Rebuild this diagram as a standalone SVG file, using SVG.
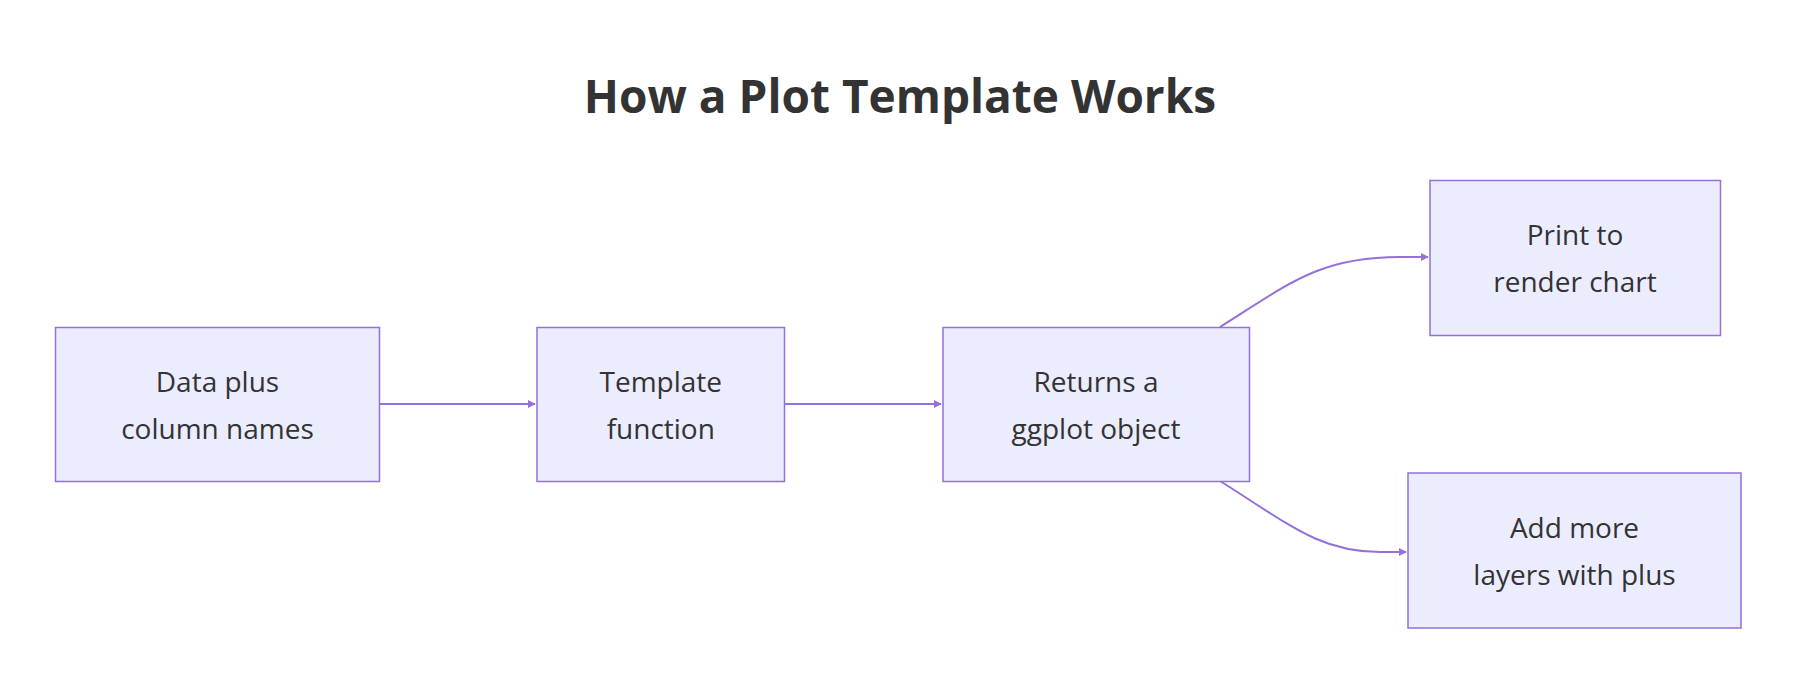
<svg xmlns="http://www.w3.org/2000/svg" width="1814" height="690" viewBox="0 0 1814 690">
<style>
.n{fill:#ECECFF;stroke:#9370DB;stroke-width:1.5}
.t{font-family:"Open Sans","Liberation Sans",sans-serif;font-size:28px;fill:#333;text-anchor:middle}
.e{fill:none;stroke:#9370DB;stroke-width:2}
</style>
<defs><marker id="a" viewBox="0 0 10 10" refX="9" refY="5" markerWidth="8" markerHeight="8" markerUnits="userSpaceOnUse" orient="auto"><path d="M0,0L10,5L0,10z" fill="#9370DB"/></marker></defs>
<rect width="1814" height="690" fill="#fff"/>
<text x="900" y="113" style="font-family:'Open Sans','Liberation Sans',sans-serif;font-size:46px;font-weight:bold;fill:#333;text-anchor:middle">How a Plot Template Works</text>
<g id="edges">
<path class="e" d="M379.5,404H535" marker-end="url(#a)"/>
<path class="e" d="M784.5,404H941" marker-end="url(#a)"/>
<path class="e" d="M1220,327C1290,283 1320,257 1400,257H1428" marker-end="url(#a)"/>
<path class="e" d="M1220,481C1290,525 1320,552 1380,552H1406" marker-end="url(#a)"/>
</g>
<g id="A"><rect class="n" x="55.5" y="327.5" width="324" height="154"/><text class="t" x="217.5" y="392">Data plus</text><text class="t" x="217.5" y="439">column names</text></g>
<g id="B"><rect class="n" x="537" y="327.5" width="247.5" height="154"/><text class="t" x="660.75" y="392">Template</text><text class="t" x="660.75" y="439">function</text></g>
<g id="C"><rect class="n" x="943" y="327.5" width="306.5" height="154"/><text class="t" x="1096" y="392">Returns a</text><text class="t" x="1096" y="439">ggplot object</text></g>
<g id="D"><rect class="n" x="1430" y="180.5" width="290.5" height="155"/><text class="t" x="1575" y="245">Print to</text><text class="t" x="1575" y="292">render chart</text></g>
<g id="E"><rect class="n" x="1408" y="473" width="333" height="155"/><text class="t" x="1574.5" y="538">Add more</text><text class="t" x="1574.5" y="585">layers with plus</text></g>
</svg>
